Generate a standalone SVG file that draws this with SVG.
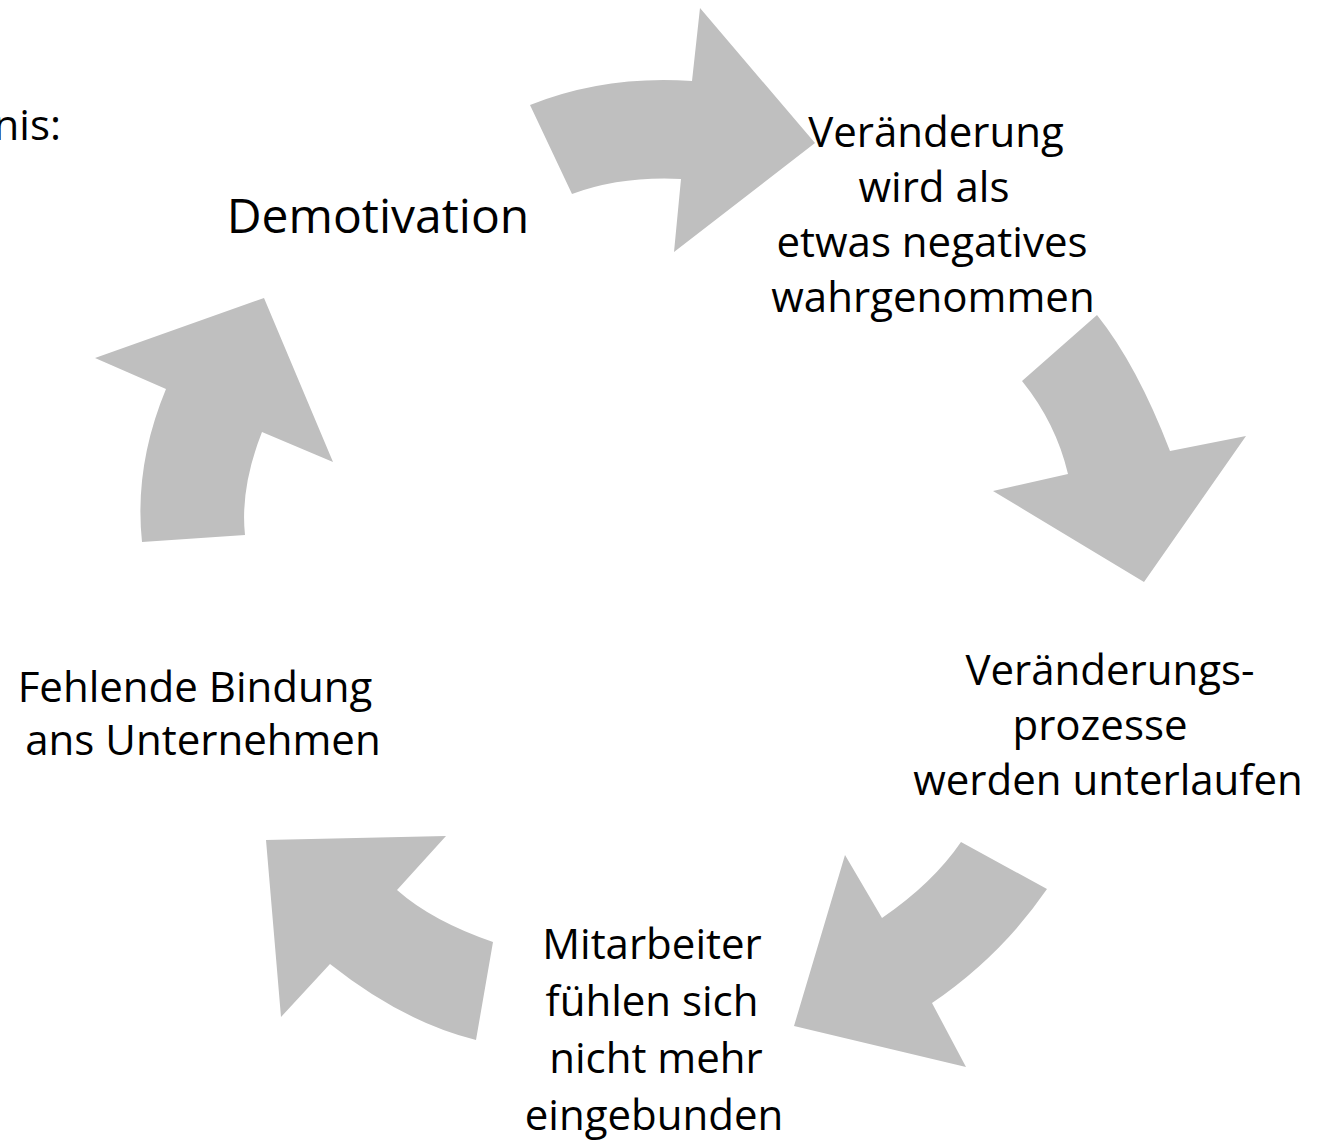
<svg xmlns="http://www.w3.org/2000/svg" width="1332" height="1143" viewBox="0 0 1332 1143">
<style>
.t{font-family:"Open Sans","Noto Sans","Liberation Sans",sans-serif;font-size:42px;fill:#000;text-anchor:middle}
.big{font-size:48px}
.arr{fill:#bfbfbf;stroke:none}
</style>
<rect width="1332" height="1143" fill="#fff"/>
<g id="connectors">
<path class="arr" d="M530,105 Q605,75 692,81 L700,8 L815,143 L674,252 L681,179 Q621,176 572,194 Z"/>
<path class="arr" d="M1022,381 L1097,315 Q1137,365 1170,451 L1246,436 L1144,582 L993,491 L1068,474 Q1056,423 1022,381 Z"/>
<path class="arr" d="M961,842 L1047,889 Q1001,956 932,1003 L966,1067 L794,1026 L845,855 L882,918 Q933,883 961,842 Z"/>
<path class="arr" d="M266,840 L446,836 L397,890 Q432,921 493,942 L476,1040 Q403,1022 330,964 L281,1017 Z"/>
<path class="arr" d="M142,542 L245,535 Q240,488 262,432 L333,462 L264,298 L95,358 L166,389 Q134,466 142,542 Z"/>
</g>
<g id="title"><text class="t" x="61" y="140" style="text-anchor:end">nis:</text></g>
<g id="node-demotivation"><text class="t big" x="378" y="233">Demotivation</text></g>
<g id="node-veraenderung">
<text class="t" x="936" y="147">Veränderung</text>
<text class="t" x="934" y="202">wird als</text>
<text class="t" x="932" y="257">etwas negatives</text>
<text class="t" x="933" y="312">wahrgenommen</text>
</g>
<g id="node-prozesse">
<text class="t" x="1110" y="685">Veränderungs-</text>
<text class="t" x="1100" y="740">prozesse</text>
<text class="t" x="1108" y="795">werden unterlaufen</text>
</g>
<g id="node-mitarbeiter">
<text class="t" x="652" y="959">Mitarbeiter</text>
<text class="t" x="652" y="1016">fühlen sich</text>
<text class="t" x="656" y="1073">nicht mehr</text>
<text class="t" x="654" y="1130">eingebunden</text>
</g>
<g id="node-bindung">
<text class="t" x="195" y="702">Fehlende Bindung</text>
<text class="t" x="203" y="755">ans Unternehmen</text>
</g>
</svg>
